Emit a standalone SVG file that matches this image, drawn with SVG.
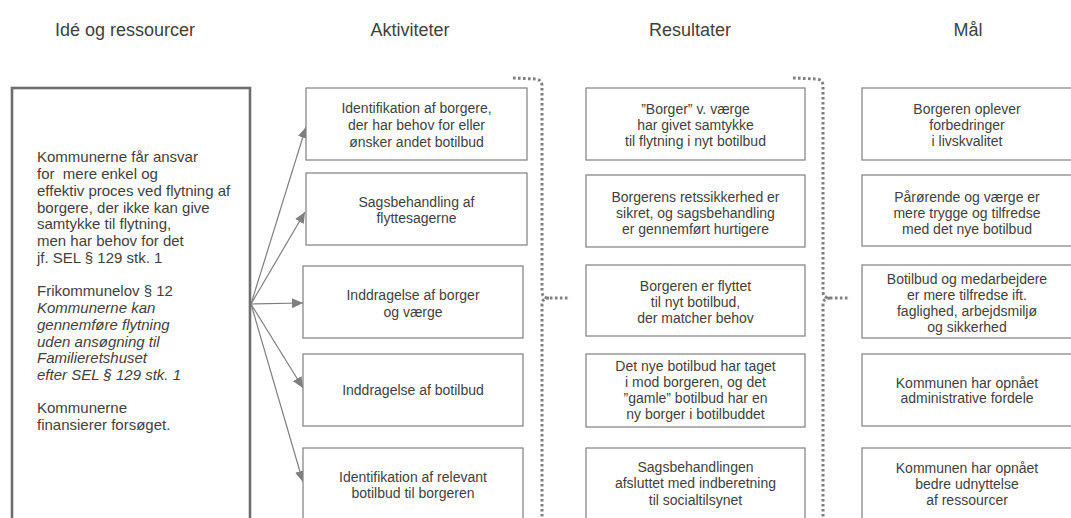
<svg xmlns="http://www.w3.org/2000/svg" width="1071" height="518" viewBox="0 0 1071 518">
<style>
text{font-family:"Liberation Sans",Arial,sans-serif;fill:#3f3f3f}
.h{font-size:18px;text-anchor:middle}
.t{font-size:14px;text-anchor:middle}
.l{font-size:15px}
.box{fill:#fff;stroke:#7f7f7f;stroke-width:1.2}
.big{fill:#fff;stroke:#6e6e6e;stroke-width:2.6}
.arr{fill:none;stroke:#7f7f7f;stroke-width:1.2}
.dot{fill:none;stroke:#7f7f7f;stroke-width:3;stroke-dasharray:2.6 2.4}
</style>
<defs>
<marker id="ah" markerUnits="userSpaceOnUse" markerWidth="12" markerHeight="10" refX="11" refY="5" orient="auto">
<path d="M0,0 L11,5 L0,10 Z" fill="#7f7f7f"/>
</marker>
</defs>
<rect width="1071" height="518" fill="#fff"/>
<g id="headers">
<text class="h" x="125" y="36">Idé og ressourcer</text>
<text class="h" x="410" y="36">Aktiviteter</text>
<text class="h" x="690" y="36">Resultater</text>
<text class="h" x="968" y="36">Mål</text>
</g>
<g id="ressourcer">
<rect class="big" x="12" y="88" width="238" height="460"/>
<text class="l" x="37" y="162">Kommunerne får ansvar</text>
<text class="l" x="37" y="179" xml:space="preserve">for  mere enkel og</text>
<text class="l" x="37" y="196">effektiv proces ved flytning af</text>
<text class="l" x="37" y="213">borgere, der ikke kan give</text>
<text class="l" x="37" y="229">samtykke til flytning,</text>
<text class="l" x="37" y="246">men har behov for det</text>
<text class="l" x="37" y="263">jf. SEL § 129 stk. 1</text>
<text class="l" x="37" y="296">Frikommunelov § 12</text>
<text class="l" x="37" y="313" font-style="italic">Kommunerne kan</text>
<text class="l" x="37" y="330" font-style="italic">gennemføre flytning</text>
<text class="l" x="37" y="347" font-style="italic">uden ansøgning til</text>
<text class="l" x="37" y="363" font-style="italic">Familieretshuset</text>
<text class="l" x="37" y="380" font-style="italic">efter SEL § 129 stk. 1</text>
<text class="l" x="37" y="413">Kommunerne</text>
<text class="l" x="37" y="430">finansierer forsøget.</text>
</g>
<g id="connectors">
<line class="arr" x1="251" y1="304" x2="306" y2="127" marker-end="url(#ah)"/>
<line class="arr" x1="251" y1="304" x2="305" y2="212" marker-end="url(#ah)"/>
<line class="arr" x1="251" y1="304" x2="303" y2="303" marker-end="url(#ah)"/>
<line class="arr" x1="251" y1="304" x2="303" y2="388" marker-end="url(#ah)"/>
<line class="arr" x1="251" y1="304" x2="303" y2="482" marker-end="url(#ah)"/>
<path class="dot" d="M513,78 L536,79 Q542,80 542,86 L542,291 Q542,298 549,298 L570,298 M549,298 Q542,298 542,305 L542,520"/>
<path class="dot" d="M793,78 L817,79 Q823,80 823,86 L823,291 Q823,298 830,298 L850,298 M830,298 Q823,298 823,305 L823,520"/>
</g>
<g id="a1"><rect class="box" x="306" y="88" width="221" height="72"/>
<text class="t" x="416.5" y="113">Identifikation af borgere,</text>
<text class="t" x="416.5" y="130">der har behov for eller</text>
<text class="t" x="416.5" y="147">ønsker andet botilbud</text></g>
<g id="a2"><rect class="box" x="306" y="173" width="221" height="72"/>
<text class="t" x="416.5" y="207">Sagsbehandling af</text>
<text class="t" x="416.5" y="223">flyttesagerne</text></g>
<g id="a3"><rect class="box" x="303" y="266" width="220" height="72"/>
<text class="t" x="413" y="300">Inddragelse af borger</text>
<text class="t" x="413" y="317">og værge</text></g>
<g id="a4"><rect class="box" x="303" y="354" width="220" height="72"/>
<text class="t" x="413" y="395">Inddragelse af botilbud</text></g>
<g id="a5"><rect class="box" x="303" y="448" width="220" height="80"/>
<text class="t" x="413" y="482">Identifikation af relevant</text>
<text class="t" x="413" y="498">botilbud til borgeren</text></g>
<g id="r1"><rect class="box" x="586" y="88" width="219" height="72"/>
<text class="t" x="695.5" y="114">”Borger” v. værge</text>
<text class="t" x="695.5" y="130">har givet samtykke</text>
<text class="t" x="695.5" y="146">til flytning i nyt botilbud</text></g>
<g id="r2"><rect class="box" x="586" y="175" width="219" height="72"/>
<text class="t" x="695.5" y="202">Borgerens retssikkerhed er</text>
<text class="t" x="695.5" y="218">sikret, og sagsbehandling</text>
<text class="t" x="695.5" y="234">er gennemført hurtigere</text></g>
<g id="r3"><rect class="box" x="586" y="265" width="219" height="71"/>
<text class="t" x="695.5" y="291">Borgeren er flyttet</text>
<text class="t" x="695.5" y="307">til nyt botilbud,</text>
<text class="t" x="695.5" y="323">der matcher behov</text></g>
<g id="r4"><rect class="box" x="586" y="354" width="219" height="73"/>
<text class="t" x="695.5" y="371">Det nye botilbud har taget</text>
<text class="t" x="695.5" y="387">i mod borgeren, og det</text>
<text class="t" x="695.5" y="403">”gamle” botilbud har en</text>
<text class="t" x="695.5" y="419">ny borger i botilbuddet</text></g>
<g id="r5"><rect class="box" x="586" y="448" width="219" height="80"/>
<text class="t" x="695.5" y="472">Sagsbehandlingen</text>
<text class="t" x="695.5" y="488">afsluttet med indberetning</text>
<text class="t" x="695.5" y="505">til socialtilsynet</text></g>
<g id="m1"><rect class="box" x="862" y="88" width="220" height="72"/>
<text class="t" x="967" y="114">Borgeren oplever</text>
<text class="t" x="967" y="130">forbedringer</text>
<text class="t" x="967" y="146">i livskvalitet</text></g>
<g id="m2"><rect class="box" x="862" y="175" width="220" height="71"/>
<text class="t" x="967" y="202">Pårørende og værge er</text>
<text class="t" x="967" y="218">mere trygge og tilfredse</text>
<text class="t" x="967" y="234">med det nye botilbud</text></g>
<g id="m3"><rect class="box" x="862" y="265" width="220" height="73"/>
<text class="t" x="967" y="284">Botilbud og medarbejdere</text>
<text class="t" x="967" y="300">er mere tilfredse ift.</text>
<text class="t" x="967" y="316">faglighed, arbejdsmiljø</text>
<text class="t" x="967" y="332">og sikkerhed</text></g>
<g id="m4"><rect class="box" x="862" y="354" width="220" height="72"/>
<text class="t" x="967" y="388">Kommunen har opnået</text>
<text class="t" x="967" y="403">administrative fordele</text></g>
<g id="m5"><rect class="box" x="862" y="448" width="220" height="80"/>
<text class="t" x="967" y="473">Kommunen har opnået</text>
<text class="t" x="967" y="489">bedre udnyttelse</text>
<text class="t" x="967" y="505">af ressourcer</text></g>
</svg>
